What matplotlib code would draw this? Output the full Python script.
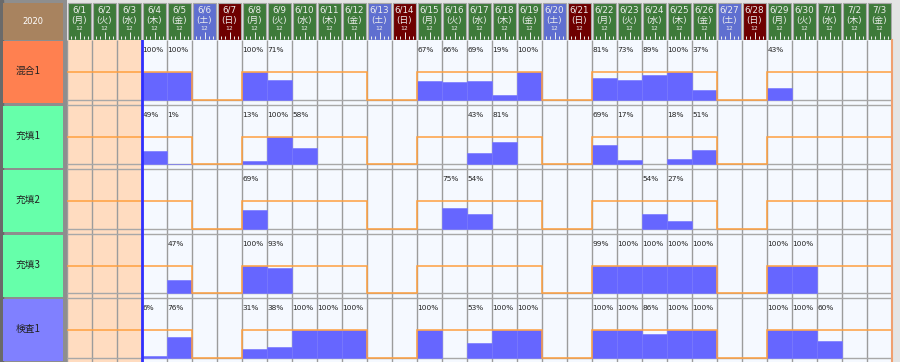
import numpy as np
import matplotlib
matplotlib.use('Agg')
import matplotlib.pyplot as plt

plt.rcParams['font.family'] = ['DejaVu Sans', 'Noto Sans CJK JP']

N = None
year = '2020'
dates = ['6/1', '6/2', '6/3', '6/4', '6/5', '6/6', '6/7',
         '6/8', '6/9', '6/10', '6/11', '6/12', '6/13', '6/14',
         '6/15', '6/16', '6/17', '6/18', '6/19', '6/20', '6/21',
         '6/22', '6/23', '6/24', '6/25', '6/26', '6/27', '6/28',
         '6/29', '6/30', '7/1', '7/2', '7/3']
weekdays = ['月', '火', '水', '木', '金', '土', '日'] * 4 + ['月', '火', '水', '木', '金']
processes = ['混合1', '充填1', '充填2', '充填3', '検査1']

# load per day in percent (None = nothing planned)
mix1 = [N, N, N, 100, 100, N, N,
        100, 71, N, N, N, N, N,
        67, 66, 69, 19, 100, N, N,
        81, 73, 89, 100, 37, N, N,
        43, N, N, N, N]
fill1 = [N, N, N, 49, 1, N, N,
         13, 100, 58, N, N, N, N,
         N, N, 43, 81, N, N, N,
         69, 17, N, 18, 51, N, N,
         N, N, N, N, N]
fill2 = [N, N, N, N, N, N, N,
         69, N, N, N, N, N, N,
         N, 75, 54, N, N, N, N,
         N, N, 54, 27, N, N, N,
         N, N, N, N, N]
fill3 = [N, N, N, N, 47, N, N,
         100, 93, N, N, N, N, N,
         N, N, N, N, N, N, N,
         99, 100, 100, 100, 100, N, N,
         100, 100, N, N, N]
insp1 = [N, N, N, 6, 76, N, N,
         31, 38, 100, 100, 100, N, N,
         100, N, 53, 100, 100, N, N,
         100, 100, 86, 100, 100, N, N,
         100, 100, 60, N, N]
loads = [mix1, fill1, fill2, fill3, insp1]
today_idx = 3  # 6/4

label_colors = ['#ff8050', '#66ffaa', '#66ffaa', '#66ffaa', '#8080ff']

W, H = 900, 362
X0, HEAD = 67, 40
ROW_H = 64.5
ndays = len(dates)
days = np.arange(ndays)
weekend = np.array([w in ('土', '日') for w in weekdays])

fig = plt.figure(figsize=(9, 3.62), dpi=100, facecolor='#e4e4e4')

# ---- left column (labels)
ax_l = fig.add_axes([0, 0, X0 / W, 1])
ax_l.set_xlim(0, X0)
ax_l.set_ylim(H, 0)
ax_l.set_facecolor('#8e8e8e')
ax_l.axis('off')
ax_l.add_patch(plt.Rectangle((0, 0), X0, H, color='#8e8e8e', zorder=0))
ax_l.axvspan(0, 3, color='#6a6a6a')
ax_l.bar(33, HEAD - 3, bottom=3, width=60, color='#a8835f')
ax_l.text(33, 21, year, color='white', fontsize=6, ha='center', va='center')
for i, name in enumerate(processes):
    top = HEAD + i * ROW_H
    ax_l.bar(33, ROW_H - 2.5, bottom=top + 1, width=60, color=label_colors[i])
    ax_l.text(16, top + ROW_H / 2 - 1, name, fontsize=7, ha='left', va='center',
              color='#222222', family=['Noto Sans CJK JP', 'DejaVu Sans'])

# ---- header
ax_h = fig.add_axes([X0 / W, (H - HEAD) / H, (ndays * 25) / W, HEAD / H])
ax_h.set_xlim(0, ndays)
ax_h.set_ylim(1, 0)
ax_h.set_facecolor('#d0d0d0')
ax_h.axis('off')
head_col = np.where(weekend, '#5f6fd0', '#3e7a3a')
head_col = np.where(np.array(weekdays) == '日', '#6e0000', head_col)
ax_h.bar(days + 0.5, 0.93, bottom=0.07, width=0.94, color=head_col,
         edgecolor='#a8a8a8', linewidth=0.8)
for d in days:
    ax_h.text(d + 0.5, 0.24, dates[d], color='#eeeeee', fontsize=6.3,
              ha='center', va='center')
    ax_h.text(d + 0.5, 0.5, '(' + weekdays[d] + ')', color='#eeeeee', fontsize=6.3,
              ha='center', va='center')
    ax_h.text(d + 0.5, 0.72, '12', color='#eeeeee', fontsize=4.3,
              ha='center', va='center')
    for k in range(1, 6):
        ax_h.vlines(d + k / 6, 0.97, 0.8 if k == 3 else 0.89,
                    color='#eeeeee', lw=0.7)

# ---- main grid
ax = fig.add_axes([X0 / W, 0, (ndays * 25) / W, (H - HEAD) / H])
ax.set_xlim(0, ndays)
ax.set_ylim((H - HEAD) / ROW_H, 0)
ax.set_facecolor('#f5f9ff')
ax.axis('off')
ax.add_patch(plt.Rectangle((0, 0), ndays, 5, color='#f5f9ff', zorder=0))
ax.axvspan(0, today_idx, color='#ffdcc0', zorder=0.5)

ax.vlines(days, 0, 5, color='#9c9c9c', lw=1, zorder=1)
for r in range(len(processes)):
    ax.hlines([r + 0.93, r + 1.0], 0, ndays, color='#a8a8a8', lw=1, zorder=1)

bar_h = 0.93 - 0.5
edges = np.arange(ndays + 1)
for r, vals in enumerate(loads):
    for d, v in enumerate(vals):
        if v is None:
            continue
        ax.bar(d + 0.5, -bar_h * v / 100, bottom=r + 0.93, width=1,
               color='#6666ff', edgecolor='#7a7aff', lw=0.5, zorder=2)
        ax.text(d + 0.02, r + 0.16, f'{v}%', fontsize=5.3, ha='left',
                va='center', color='#222222', zorder=4)
    level = r + np.where(weekend, 0.93, 0.5)
    ax.stairs(level, edges, baseline=None, color='#ffa040', lw=1.1, zorder=3)

ax.axvline(today_idx, color='#3030ff', lw=2, zorder=5)
ax.axvline(ndays, color='#f0a070', lw=1.5, zorder=5, clip_on=False)

fig.savefig('out.png', dpi=100, facecolor=fig.get_facecolor())
